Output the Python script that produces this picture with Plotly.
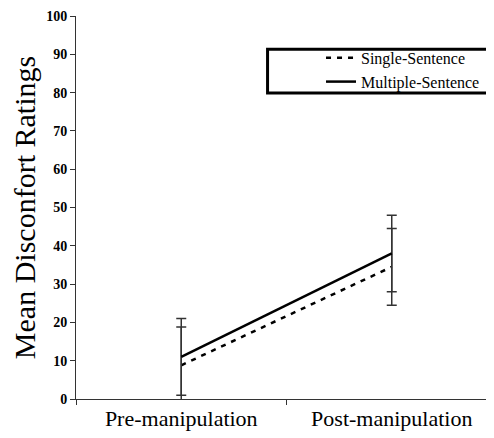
import plotly.graph_objects as go

categories = ["Pre-manipulation", "Post-manipulation"]
single_vals = [8.8, 34.5]
single_err = [10, 10]
multiple_vals = [11, 38]
multiple_err = [10, 10]
y_ticks = [0, 10, 20, 30, 40, 50, 60, 70, 80, 90, 100]

fig = go.Figure()
fig.add_trace(go.Scatter(
    x=categories, y=single_vals, name="Single-Sentence", mode="lines",
    line=dict(color="black", width=2.5, dash="5px,6px"),
    error_y=dict(type="data", array=single_err, visible=True, color="#333", thickness=1.5, width=5),
))
fig.add_trace(go.Scatter(
    x=categories, y=multiple_vals, name="Multiple-Sentence", mode="lines",
    line=dict(color="black", width=2.5),
    error_y=dict(type="data", array=multiple_err, visible=True, color="#333", thickness=1.5, width=5),
))

fig.add_shape(type="rect", xref="paper", yref="paper",
              x0=0.455, x1=0.987, y0=0.799, y1=0.913,
              line=dict(color="black", width=3), fillcolor="rgba(0,0,0,0)")

fig.update_layout(
    width=490, height=430,
    margin=dict(l=68, r=1, t=6, b=39),
    plot_bgcolor="white", paper_bgcolor="white",
    font=dict(family="Liberation Serif", color="black"),
    showlegend=True,
    legend=dict(
        x=0.582, y=0.935, xanchor="left", yanchor="top",
        borderwidth=0, bgcolor="rgba(0,0,0,0)",
        font=dict(size=16, family="Liberation Serif"),
        tracegroupgap=0,
    ),
    xaxis=dict(
        type="category", range=[-0.5, 1.5], showline=True, linecolor="#333", linewidth=1,
        ticks="outside", tickson="boundaries", ticklen=5, tickcolor="#333",
        tickfont=dict(size=22, family="Liberation Serif"), showgrid=False, zeroline=False,
        ticklabeloverflow="allow",
    ),
    yaxis=dict(
        range=[0, 100], tickvals=y_ticks, showline=True, linecolor="#333", linewidth=1,
        ticks="outside", ticklen=5, tickcolor="#333", showgrid=False, zeroline=False,
        tickfont=dict(size=14, family="Liberation Serif", weight="bold"),
        ticklabeloverflow="allow",
        title=dict(text="Mean Disconfort Ratings", font=dict(size=30, family="Liberation Serif"), standoff=16),
    ),
)

fig.write_html("out.html")
